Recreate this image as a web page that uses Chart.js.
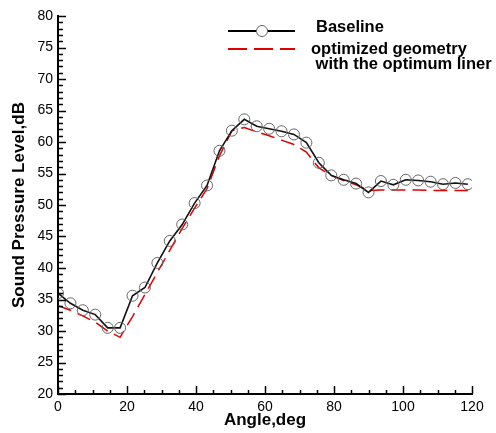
<!DOCTYPE html>
<html>
<head>
<meta charset="utf-8">
<script src="https://cdn.jsdelivr.net/npm/chart.js@4/dist/chart.umd.min.js"></script>
<style>
  html, body { margin: 0; padding: 0; background: #fff; }
  #wrap { position: relative; width: 496px; height: 433px; }
</style>
</head>
<body>
<div id="wrap"><canvas id="spl-chart" width="496" height="433"></canvas></div>
<script>
// angles (deg) of the markers
const angles = [0, 3.6, 7.2, 10.8, 14.4, 18.0, 21.6, 25.2, 28.8, 32.4, 36.0, 39.6,
  43.2, 46.8, 50.4, 54.0, 57.6, 61.2, 64.8, 68.4, 72.0, 75.6, 79.2, 82.8,
  86.4, 90.0, 93.6, 97.2, 100.8, 104.4, 108.0, 111.6, 115.2, 118.8];

// Baseline SPL (dB)
const baseline = [36.0, 34.4, 33.3, 32.6, 30.5, 30.5, 35.6, 36.9, 40.8, 44.3, 46.9, 50.3,
  53.1, 58.6, 61.8, 63.6, 62.5, 62.1, 61.7, 61.2, 59.9, 56.7, 54.7, 54.0,
  53.4, 52.0, 53.8, 53.2, 54.0, 53.9, 53.7, 53.3, 53.5, 53.3];

// optimized geometry with the optimum liner (dB)
const optimized = [34.0, 33.3, 32.4, 31.4, 30.0, 29.0, 32.3, 35.8, 39.3, 42.8, 46.3, 49.5,
  52.6, 57.8, 61.8, 62.3, 61.6, 61.0, 60.3, 59.6, 58.4, 55.9, 54.7, 53.9,
  53.2, 52.3, 52.4, 52.4, 52.4, 52.4, 52.3, 52.3, 52.3, 52.3];

const xTicks = [0, 20, 40, 60, 80, 100, 120];
const yTicks = [20, 25, 30, 35, 40, 45, 50, 55, 60, 65, 70, 75, 80];

const FONT = "'Liberation Sans', Arial, Helvetica, sans-serif";

// inward major/minor ticks like the original plot
const innerTicks = {
  id: "innerTicks",
  afterDraw(chart) {
    const ctx = chart.ctx;
    const xs = chart.scales.x, ys = chart.scales.y;
    const area = chart.chartArea;
    ctx.save();
    ctx.strokeStyle = "#000";
    ctx.lineWidth = 1.5;
    ctx.beginPath();
    for (let v = 20; v <= 80; v += 1) {
      const y = Math.round(ys.getPixelForValue(v)) + 0.5;
      const len = v % 5 === 0 ? 8 : 5;
      ctx.moveTo(area.left, y);
      ctx.lineTo(area.left + len, y);
    }
    for (let v = 0; v <= 120; v += 5) {
      const x = Math.round(xs.getPixelForValue(v)) + 0.5;
      const len = v % 20 === 0 ? 8 : 4;
      ctx.moveTo(x, area.bottom);
      ctx.lineTo(x, area.bottom - len);
    }
    ctx.stroke();
    ctx.restore();
  }
};

// legend in the top right corner
const legendBox = {
  id: "legendBox",
  afterDraw(chart) {
    const ctx = chart.ctx;
    ctx.save();
    ctx.lineWidth = 2;
    ctx.strokeStyle = "#000";
    ctx.beginPath();
    ctx.moveTo(228, 31);
    ctx.lineTo(295, 31);
    ctx.stroke();
    ctx.lineWidth = 1;
    ctx.strokeStyle = "#666";
    ctx.beginPath();
    ctx.arc(262, 31, 5.5, 0, Math.PI * 2);
    ctx.fillStyle = "#fff";
    ctx.fill();
    ctx.stroke();

    ctx.strokeStyle = "#e00000";
    ctx.lineWidth = 2;
    ctx.setLineDash([19, 7]);
    ctx.beginPath();
    ctx.moveTo(228, 49);
    ctx.lineTo(295, 49);
    ctx.stroke();
    ctx.setLineDash([]);

    ctx.fillStyle = "#000";
    ctx.font = "bold 16.5px " + FONT;
    ctx.textBaseline = "middle";
    ctx.fillText("Baseline", 316, 27);
    ctx.fillText("optimized geometry", 311, 49);
    ctx.fillText(" with the optimum liner", 311, 64);
    ctx.restore();
  }
};

document.addEventListener("DOMContentLoaded", () => {
  const canvas = document.getElementById("spl-chart");
  const ctx = canvas.getContext("2d");

  new Chart(ctx, {
    type: "line",
    data: {
      datasets: [
        {
          label: "Baseline",
          data: angles.map((a, i) => ({ x: a, y: baseline[i] })),
          borderColor: "#111",
          borderWidth: 1.6,
          pointRadius: 5.5,
          pointBorderColor: "#666",
          pointBorderWidth: 1,
          pointBackgroundColor: "rgba(0,0,0,0)",
          tension: 0
        },
        {
          label: "optimized geometry with the optimum liner",
          data: angles.map((a, i) => ({ x: a, y: optimized[i] })),
          borderColor: "#e00000",
          borderWidth: 1.5,
          borderDash: [14, 7],
          pointRadius: 0,
          tension: 0
        }
      ]
    },
    options: {
      responsive: false,
      animation: false,
      layout: { padding: { top: 16, right: 24, left: 0, bottom: 0 } },
      plugins: { legend: { display: false }, tooltip: { enabled: false } },
      scales: {
        x: {
          type: "linear",
          min: 0, max: 120,
          afterBuildTicks: (s) => { s.ticks = xTicks.map(v => ({ value: v })); },
          afterFit: (s) => { s.height = 39; },
          grid: { display: false, drawTicks: false },
          border: { display: true, color: "#000", width: 2 },
          ticks: { color: "#000", padding: 5, maxRotation: 0, font: { family: FONT, size: 14 } },
          title: { display: true, text: "Angle,deg", color: "#000", padding: { top: 0, bottom: 2 },
                   font: { family: FONT, size: 17, weight: "bold" } }
        },
        y: {
          type: "linear",
          min: 20, max: 80,
          afterBuildTicks: (s) => { s.ticks = yTicks.map(v => ({ value: v })); },
          afterFit: (s) => { s.width = 58; },
          grid: { display: false, drawTicks: false },
          border: { display: true, color: "#000", width: 2 },
          ticks: { color: "#000", padding: 5, font: { family: FONT, size: 14 } },
          title: { display: true, text: "Sound Pressure Level,dB", color: "#000", padding: { top: 9, bottom: 0 },
                   font: { family: FONT, size: 17, weight: "bold" } }
        }
      }
    },
    plugins: [innerTicks, legendBox]
  });
});
</script>
</body>
</html>
